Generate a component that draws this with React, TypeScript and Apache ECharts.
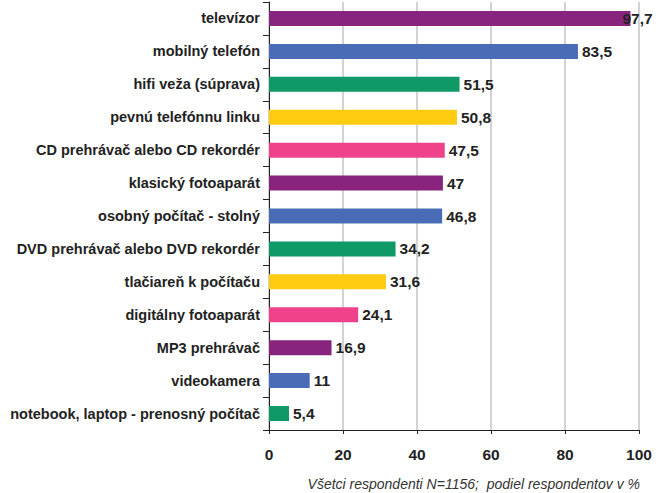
import React, { useEffect, useRef } from "react";
import * as echarts from "echarts";

const categories = [
  "televízor",
  "mobilný telefón",
  "hifi veža (súprava)",
  "pevnú telefónnu linku",
  "CD prehrávač alebo CD rekordér",
  "klasický fotoaparát",
  "osobný počítač - stolný",
  "DVD prehrávač alebo DVD rekordér",
  "tlačiareň k počítaču",
  "digitálny fotoaparát",
  "MP3 prehrávač",
  "videokamera",
  "notebook, laptop - prenosný počítač",
];
const values = [97.7, 83.5, 51.5, 50.8, 47.5, 47, 46.8, 34.2, 31.6, 24.1, 16.9, 11, 5.4];
const palette = ["#88237e", "#4a6cb6", "#0f9966", "#ffcc11", "#f0428a"];
const xTicks = [0, 20, 40, 60, 80, 100];
const footnote = "Všetci respondenti N=1156;  podiel respondentov v %";

export default function App() {
  const ref = useRef<HTMLDivElement>(null);
  useEffect(() => {
    const chart = echarts.init(ref.current!, null, { renderer: "svg" });
    const font = "Liberation Sans, Arial, sans-serif";
    chart.setOption({
      animation: false,
      grid: { left: 269, right: 23, top: 2, bottom: 63 },
      xAxis: {
        type: "value",
        min: xTicks[0],
        max: xTicks[xTicks.length - 1],
        interval: 20,
        axisLine: { show: true, lineStyle: { color: "#222", width: 1 } },
        axisTick: { show: true, length: 4, lineStyle: { color: "#222" } },
        splitLine: { show: true, lineStyle: { color: "#c4c4c4", width: 1.5 } },
        axisLabel: {
          color: "#222",
          fontFamily: font,
          fontWeight: "bold",
          fontSize: 15.5,
          margin: 16,
        },
      },
      yAxis: {
        type: "category",
        data: categories,
        inverse: true,
        axisLine: { show: true, lineStyle: { color: "#222", width: 1 } },
        axisTick: { show: true, length: 6, lineStyle: { color: "#222" } },
        axisLabel: {
          color: "#222",
          fontFamily: font,
          fontWeight: "bold",
          fontSize: 14.5,
          margin: 9,
        },
      },
      series: [
        {
          type: "bar",
          barWidth: 15,
          data: values.map((v, i) => ({
            value: v,
            itemStyle: { color: palette[i % palette.length] },
            label: i === 0 ? { offset: [-12, 0] } : undefined,
          })),
          label: {
            show: true,
            position: "right",
            distance: 4,
            color: "#222",
            fontFamily: font,
            fontWeight: "bold",
            fontSize: 15.5,
            formatter: (p: any) => String(p.value).replace(".", ","),
          },
        },
      ],
      graphic: [
        {
          type: "text",
          right: 22,
          top: 477,
          style: {
            text: footnote,
            fill: "#333",
            font: "italic 14px Liberation Sans, Arial, sans-serif",
          },
        },
      ],
    });
    return () => chart.dispose();
  }, []);
  return <div ref={ref} style={{ width: 662, height: 493, position: "absolute", left: 0, top: 0 }} />;
}
